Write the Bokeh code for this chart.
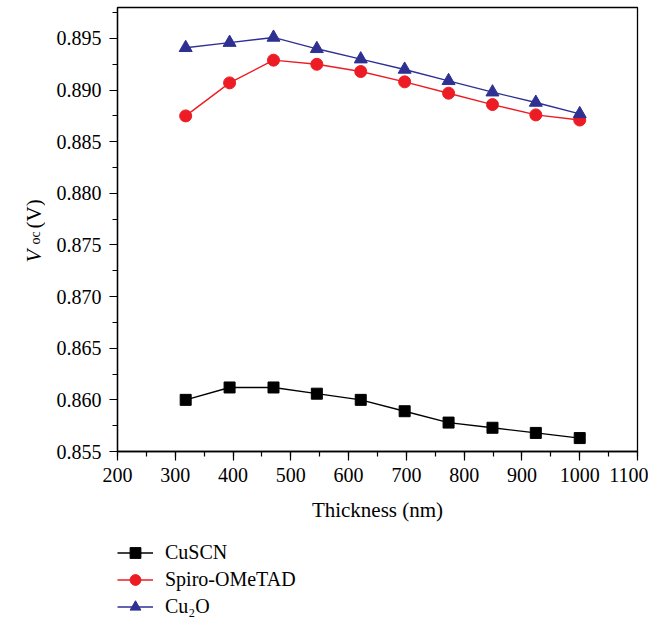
import math
from bokeh.plotting import figure
from bokeh.layouts import row, column
from bokeh.models import Range1d, SingleIntervalTicker, NumeralTickFormatter, Legend, LegendItem, Label
from bokeh.embed import file_html
from bokeh.resources import INLINE

# ---- data ----
thickness = [318, 394, 470, 545, 621, 697, 773, 849, 924, 1000]
voc_cuscn = [0.8600, 0.8612, 0.8612, 0.8606, 0.8600, 0.8589, 0.8578, 0.8573, 0.8568, 0.8563]
voc_spiro = [0.8875, 0.8907, 0.8929, 0.8925, 0.8918, 0.8908, 0.8897, 0.8886, 0.8876, 0.8871]
voc_cu2o = [0.8941, 0.8946, 0.8951, 0.8940, 0.8930, 0.8920, 0.8909, 0.8898, 0.8888, 0.8877]
series_names = ["CuSCN", "Spiro-OMeTAD", "Cu\u2082O"]
x_title = "Thickness (nm)"

X0, X1 = 200, 1100
Y0, Y1 = 0.855, 0.898

FONT = "Liberation Serif"
BLACK, RED, BLUE = "black", "#ED1C24", "#2E3192"

# ---- layout sizes ----
TITLE_W = 45            # strip holding the rotated y-axis title
MAIN_W, MAIN_H = 603, 536
LEG_H = 91

# ---- main plot ----
p = figure(width=MAIN_W, height=MAIN_H, x_range=Range1d(X0, X1), y_range=Range1d(Y0, Y1),
           output_backend="svg", toolbar_location=None,
           min_border_left=117 - TITLE_W, min_border_right=11,
           min_border_top=7, min_border_bottom=85)
p.grid.visible = False
p.outline_line_color = "black"
p.outline_line_width = 1.3
p.background_fill_color = "white"
p.border_fill_color = "white"

p.xaxis.ticker = SingleIntervalTicker(interval=100, num_minor_ticks=2)
p.yaxis.ticker = SingleIntervalTicker(interval=0.005, num_minor_ticks=2)
p.yaxis.formatter = NumeralTickFormatter(format="0.000")
for ax in (p.xaxis, p.yaxis):
    ax.axis_line_width = 1.3
    ax.axis_line_color = "black"
    ax.major_tick_line_color = "black"
    ax.minor_tick_line_color = "black"
    ax.major_tick_line_width = 1.2
    ax.minor_tick_line_width = 1.2
    ax.major_tick_in = 0
    ax.minor_tick_in = 0
    ax.minor_tick_out = 5
    ax.major_label_text_font = FONT
    ax.major_label_text_font_size = "20px"
    ax.major_label_text_color = "black"
p.xaxis.major_tick_out = 9
p.yaxis.major_tick_out = 8
p.xaxis.major_label_standoff = 7
p.yaxis.major_label_standoff = 8
p.xaxis.axis_label = x_title
p.xaxis.axis_label_text_font = FONT
p.xaxis.axis_label_text_font_size = "21px"
p.xaxis.axis_label_text_font_style = "normal"
p.xaxis.axis_label_text_color = "black"
p.xaxis.axis_label_standoff = 13

p.line(thickness, voc_cuscn, line_color=BLACK, line_width=1.4)
p.scatter(thickness, voc_cuscn, marker="square", size=11, fill_color=BLACK, line_color=BLACK)
p.line(thickness, voc_spiro, line_color=RED, line_width=1.4)
p.scatter(thickness, voc_spiro, marker="circle", size=12, fill_color=RED, line_color=RED)
p.line(thickness, voc_cu2o, line_color=BLUE, line_width=1.4)
p.scatter(thickness, voc_cu2o, marker="triangle", size=13, fill_color=BLUE, line_color=BLUE)

# ---- y-axis title strip: V_oc (V) ----
t = figure(width=TITLE_W, height=MAIN_H, x_range=Range1d(0, TITLE_W), y_range=Range1d(MAIN_H, 0),
           x_axis_type=None, y_axis_type=None, output_backend="svg", toolbar_location=None,
           min_border=0, outline_line_color=None)
t.grid.visible = False
common = dict(angle=math.pi / 2, text_font=FONT, text_align="left",
              text_baseline="alphabetic", text_color="black")
t.add_layout(Label(x=33, y=262, text="V", text_font_size="21px", text_font_style="italic", **common))
t.add_layout(Label(x=35, y=244, text="oc", text_font_size="14px", **common))
t.add_layout(Label(x=33, y=228, text="(V)", text_font_size="21px", **common))

# ---- legend strip (its renderers use the series data, which lies outside this strip's ranges) ----
lg = figure(width=MAIN_W, height=LEG_H, x_range=Range1d(0, 1), y_range=Range1d(0, 1),
            x_axis_type=None, y_axis_type=None, output_backend="svg", toolbar_location=None,
            min_border_left=116 - TITLE_W, min_border_top=3, min_border_right=0, min_border_bottom=0,
            outline_line_color=None)
lg.grid.visible = False
styles = [(voc_cuscn, BLACK, "square"), (voc_spiro, RED, "circle"), (voc_cu2o, BLUE, "triangle")]
items = []
for name, (vals, col, mk) in zip(series_names, styles):
    rl = lg.line(thickness, vals, line_color=col, line_width=1.4)
    rm = lg.scatter(thickness, vals, marker=mk, fill_color=col, line_color=col)
    items.append(LegendItem(label=name, renderers=[rl, rm]))
legend = Legend(items=items, location="top_left", orientation="vertical",
                border_line_color=None, background_fill_alpha=0,
                margin=0, padding=0, spacing=0,
                glyph_width=36, glyph_height=27, label_height=27,
                label_standoff=12, label_text_font=FONT, label_text_font_size="20px",
                label_text_color="black", label_text_baseline="middle")
lg.add_layout(legend)

layout = row(t, column(p, lg))
open("out.html", "w").write(file_html(layout, INLINE))
